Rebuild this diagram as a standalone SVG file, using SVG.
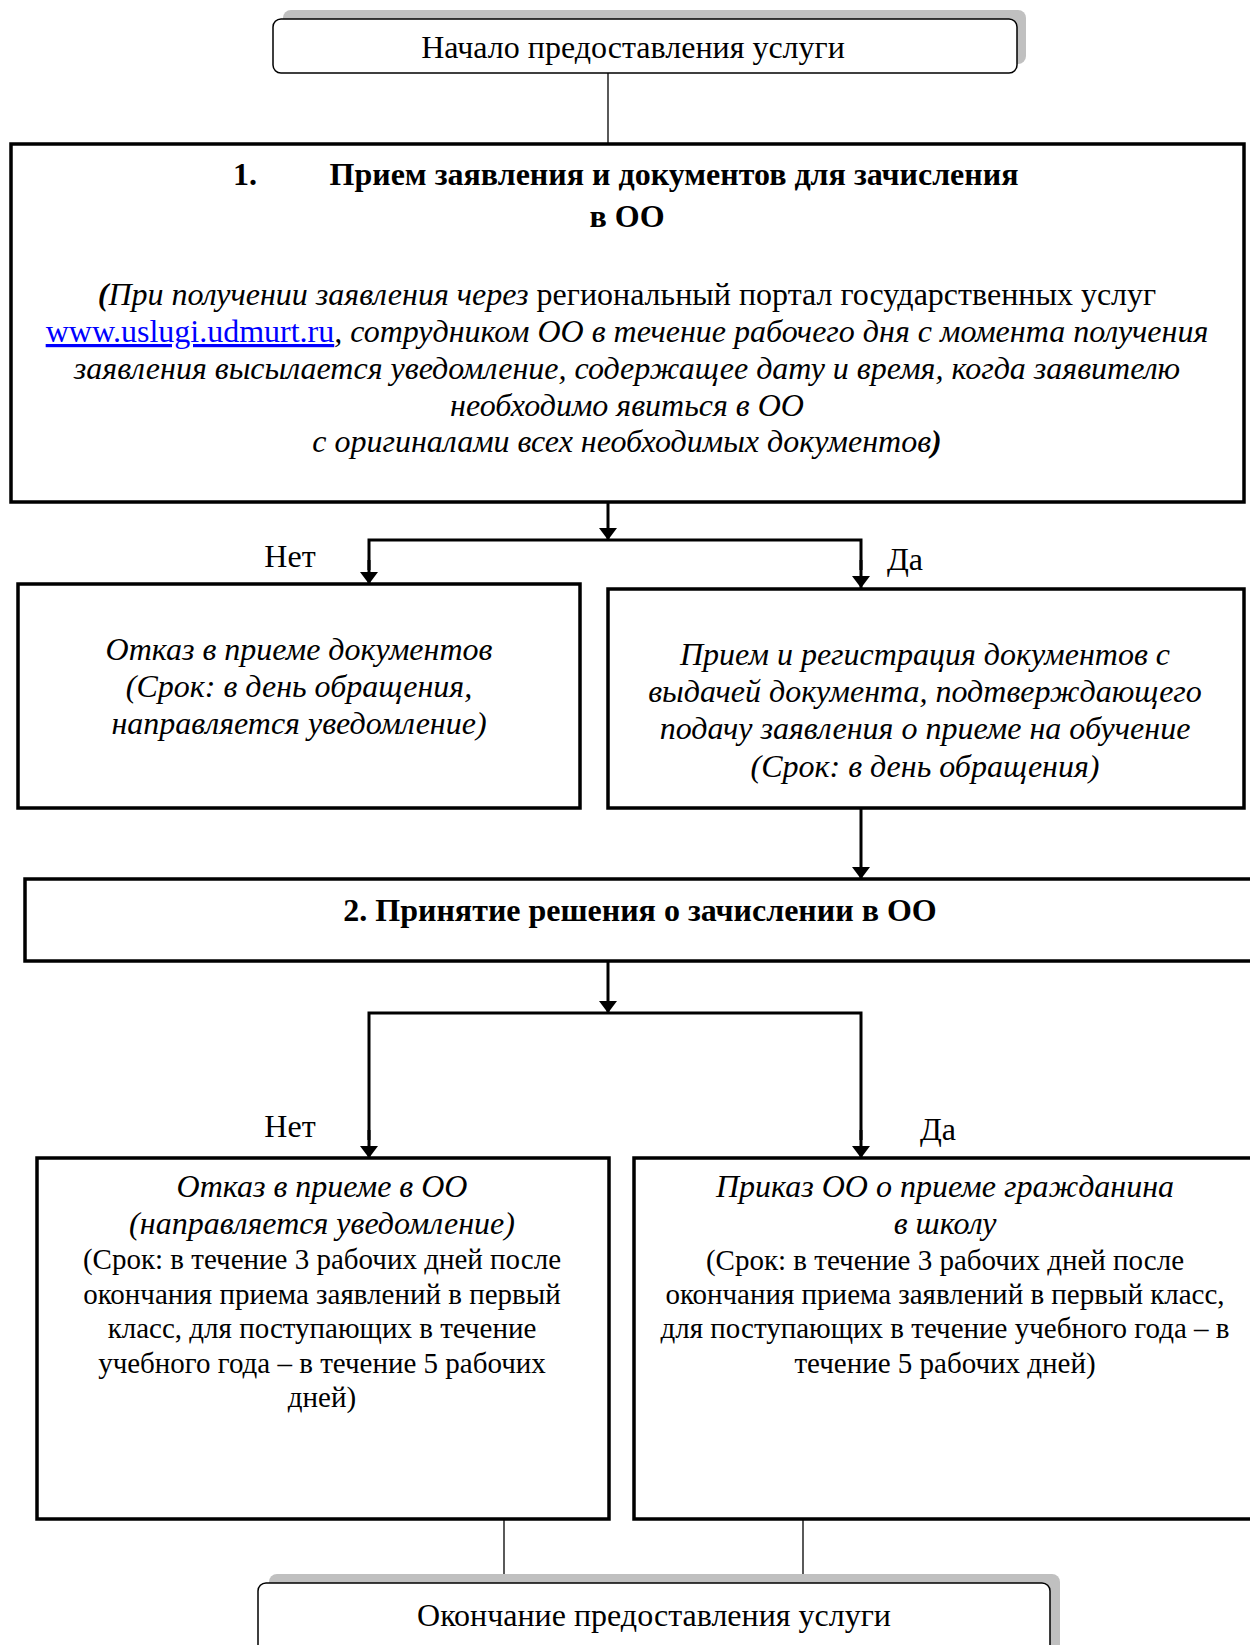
<svg xmlns="http://www.w3.org/2000/svg" width="1250" height="1645" viewBox="0 0 1250 1645">
<defs>
<marker id="ah" viewBox="0 0 12 18" refX="12" refY="9" markerWidth="12" markerHeight="18" markerUnits="userSpaceOnUse" orient="auto">
<path d="M0,0 L12,9 L0,18 Z" fill="#000"/>
</marker>
<style>
text{font-family:"Liberation Serif","Times New Roman",serif;font-size:32px;fill:#000}
.b{font-weight:bold}
.i{font-style:italic}
.s{font-size:29px}
.box{fill:#fff;stroke:#000;stroke-width:3.5}
.term{fill:#fff;stroke:#000;stroke-width:1.5}
.sh{fill:#c0c0c0}
.thin{stroke:#000;stroke-width:1.3;fill:none}
.arr{stroke:#000;stroke-width:3;fill:none}
.link{fill:#0000ff;text-decoration:underline}
</style>
</defs>
<rect width="1250" height="1645" fill="#fff"/>
<g id="connectors">
<line class="thin" x1="608" y1="73" x2="608" y2="144"/>
<line class="arr" x1="608" y1="502" x2="608" y2="540" marker-end="url(#ah)"/>
<polyline class="arr" points="369,570 369,540 861,540 861,570"/>
<line class="arr" x1="369" y1="560" x2="369" y2="584" marker-end="url(#ah)"/>
<line class="arr" x1="861" y1="560" x2="861" y2="588" marker-end="url(#ah)"/>
<line class="arr" x1="861" y1="808" x2="861" y2="879" marker-end="url(#ah)"/>
<line class="arr" x1="608" y1="961" x2="608" y2="1013" marker-end="url(#ah)"/>
<polyline class="arr" points="369,1140 369,1013 861,1013 861,1140"/>
<line class="arr" x1="369" y1="1130" x2="369" y2="1158" marker-end="url(#ah)"/>
<line class="arr" x1="861" y1="1130" x2="861" y2="1158" marker-end="url(#ah)"/>
<line class="thin" x1="504" y1="1519" x2="504" y2="1574"/>
<line class="thin" x1="803" y1="1519" x2="803" y2="1583"/>
<text x="290" y="567" text-anchor="middle">Нет</text>
<text x="905" y="570" text-anchor="middle">Да</text>
<text x="290" y="1137" text-anchor="middle">Нет</text>
<text x="938" y="1140" text-anchor="middle">Да</text>
</g>
<g id="start">
<rect class="sh" x="283" y="10" width="743" height="54" rx="8"/>
<rect class="term" x="273" y="19" width="744" height="54" rx="8"/>
<text x="633" y="58" text-anchor="middle">Начало предоставления услуги</text>
</g>
<g id="step1">
<rect class="box" x="11" y="144" width="1233" height="358"/>
<text class="b" x="233" y="185">1.</text>
<text class="b" x="674" y="185" text-anchor="middle">Прием заявления и документов для зачисления</text>
<text class="b" x="627" y="227" text-anchor="middle">в ОО</text>
<text x="627" y="305" text-anchor="middle"><tspan class="i b">(</tspan><tspan class="i">При получении заявления через</tspan> региональный портал государственных услуг</text>
<text x="627" y="342" text-anchor="middle"><tspan class="link">www.uslugi.udmurt.ru</tspan><tspan class="i">, сотрудником ОО в течение рабочего дня с момента получения</tspan></text>
<text class="i" x="627" y="379" text-anchor="middle">заявления высылается уведомление, содержащее дату и время, когда заявителю</text>
<text class="i" x="627" y="416" text-anchor="middle">необходимо явиться в ОО</text>
<text class="i" x="627" y="452" text-anchor="middle">с оригиналами всех необходимых документов<tspan class="b">)</tspan></text>
</g>
<g id="refuse1">
<rect class="box" x="18" y="584" width="562" height="224"/>
<text class="i" x="299" y="660" text-anchor="middle">Отказ в приеме документов</text>
<text class="i" x="299" y="697" text-anchor="middle">(Срок: в день обращения,</text>
<text class="i" x="299" y="734" text-anchor="middle">направляется уведомление)</text>
</g>
<g id="accept1">
<rect class="box" x="608" y="589" width="636" height="219"/>
<text class="i" x="925" y="665" text-anchor="middle">Прием и регистрация документов с</text>
<text class="i" x="925" y="702" text-anchor="middle">выдачей документа, подтверждающего</text>
<text class="i" x="925" y="739" text-anchor="middle">подачу заявления о приеме на обучение</text>
<text class="i" x="925" y="777" text-anchor="middle">(Срок: в день обращения)</text>
</g>
<g id="step2">
<rect class="box" x="25" y="879" width="1240" height="82"/>
<text class="b" x="640" y="921" text-anchor="middle">2. Принятие решения о зачислении в ОО</text>
</g>
<g id="refuse2">
<rect class="box" x="37" y="1158" width="572" height="361"/>
<text class="i" x="322" y="1197" text-anchor="middle">Отказ в приеме в ОО</text>
<text class="i" x="322" y="1234" text-anchor="middle">(направляется уведомление)</text>
<text class="s" x="322" y="1269" text-anchor="middle">(Срок: в течение 3 рабочих дней после</text>
<text class="s" x="322" y="1304" text-anchor="middle">окончания приема заявлений в первый</text>
<text class="s" x="322" y="1338" text-anchor="middle">класс, для поступающих в течение</text>
<text class="s" x="322" y="1373" text-anchor="middle">учебного года – в течение 5 рабочих</text>
<text class="s" x="322" y="1407" text-anchor="middle">дней)</text>
</g>
<g id="order">
<rect class="box" x="634" y="1158" width="640" height="361"/>
<text class="i" x="945" y="1197" text-anchor="middle">Приказ ОО о приеме гражданина</text>
<text class="i" x="945" y="1234" text-anchor="middle">в школу</text>
<text class="s" x="945" y="1270" text-anchor="middle">(Срок: в течение 3 рабочих дней после</text>
<text class="s" x="945" y="1304" text-anchor="middle">окончания приема заявлений в первый класс,</text>
<text class="s" x="945" y="1338" text-anchor="middle">для поступающих в течение учебного года – в</text>
<text class="s" x="945" y="1373" text-anchor="middle">течение 5 рабочих дней)</text>
</g>
<g id="end">
<rect class="sh" x="269" y="1574" width="791" height="90" rx="8"/>
<rect class="term" x="258" y="1583" width="792" height="90" rx="8"/>
<text x="654" y="1626" text-anchor="middle">Окончание предоставления услуги</text>
</g>
</svg>
